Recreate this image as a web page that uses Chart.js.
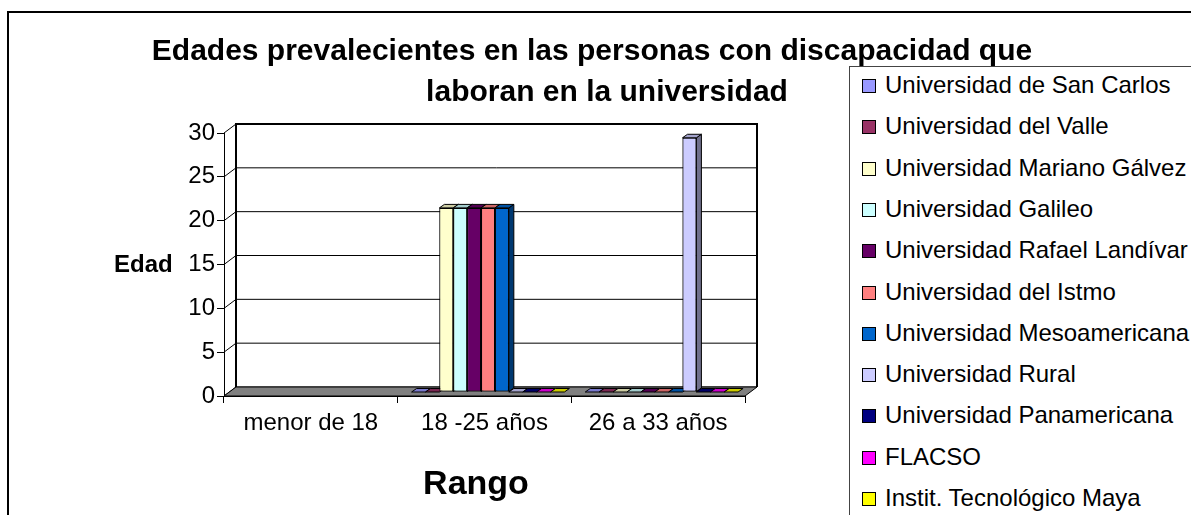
<!DOCTYPE html>
<html>
<head>
<meta charset="utf-8">
<script src="https://cdn.jsdelivr.net/npm/chart.js@4.4.1/dist/chart.umd.min.js"></script>
<style>
    body { margin: 0; background: #fff; font-family: "Liberation Sans", Arial, sans-serif; }
    #wrap { position: relative; width: 1191px; height: 515px; overflow: hidden; }
    #frame { position: absolute; left: 7px; top: 11px; width: 1300px; height: 600px; border-left: 2px solid #000; border-top: 2px solid #000; }
    #legend { position: absolute; left: 849px; top: 66px; width: 400px; height: 600px; border: 1px solid #444; background: #fff; }
    .item { position: absolute; left: 12px; height: 28px; line-height: 28px; font-size: 24px; white-space: nowrap; color: #000; }
    .item span { display: inline-block; width: 12px; height: 12px; border: 1px solid #000; margin-right: 9px; vertical-align: 0px; }
    canvas { position: absolute; left: 0; top: 0; }
</style>
</head>
<body>
<div id="wrap">
    <div id="frame"></div>
    <canvas id="chart" width="1191" height="515"></canvas>
    <div id="legend"></div>
</div>
<script>
const categories = ['menor de 18', '18 -25 años', '26 a 33 años'];
const yTicks = [0, 5, 10, 15, 20, 25, 30];

const universities = [
    'Universidad de San Carlos', 'Universidad del Valle', 'Universidad Mariano Gálvez',
    'Universidad Galileo', 'Universidad Rafael Landívar', 'Universidad del Istmo',
    'Universidad Mesoamericana', 'Universidad Rural', 'Universidad Panamericana',
    'FLACSO', 'Instit. Tecnológico Maya'
];
const colors = ['#9999FF', '#993366', '#FFFFCC', '#CCFFFF', '#660066', '#FF8080',
    '#0066CC', '#CCCCFF', '#000080', '#FF00FF', '#FFFF00'];

// empty cells in the first range, zeros elsewhere
const sanCarlos     = [null, 0, 0];
const delValle      = [null, 0, 0];
const marianoGalvez = [null, 21, 0];
const galileo       = [null, 21, 0];
const landivar      = [null, 21, 0];
const istmo         = [null, 21, 0];
const mesoamericana = [null, 21, 0];
const rural         = [null, 0, 29];
const panamericana  = [null, 0, 0];
const flacso        = [null, 0, 0];
const tecMaya       = [null, 0, 0];

const series = [sanCarlos, delValle, marianoGalvez, galileo, landivar, istmo,
    mesoamericana, rural, panamericana, flacso, tecMaya];

const FONT = '"Liberation Sans", Arial, sans-serif';

const shade = (hex, f) => {
    const n = parseInt(hex.slice(1), 16);
    const r = Math.round(((n >> 16) & 255) * f);
    const g = Math.round(((n >> 8) & 255) * f);
    const b = Math.round((n & 255) * f);
    return `rgb(${r},${g},${b})`;
};

const poly = (ctx, pts, fill) => {
    ctx.beginPath();
    ctx.moveTo(pts[0][0], pts[0][1]);
    pts.slice(1).forEach(p => ctx.lineTo(p[0], p[1]));
    ctx.closePath();
    ctx.fillStyle = fill;
    ctx.fill();
    ctx.stroke();
};

// fake excel 3d: back wall, floor, bar tops and sides
const threeD = {
    id: 'threeD',
    beforeDatasetsDraw(chart) {
        const { ctx, chartArea: a, scales: { y } } = chart;
        const dx = 12, dy = -9;
        ctx.save();
        ctx.fillStyle = '#fff';
        ctx.fillRect(a.left + dx, a.top + dy, a.right - a.left, a.bottom - a.top);
        ctx.strokeStyle = '#000';
        ctx.lineWidth = 1;
        y.ticks.forEach(t => {
            const py = y.getPixelForValue(t.value);
            ctx.beginPath();
            ctx.moveTo(a.left, py);
            ctx.lineTo(a.left + dx, py + dy);
            ctx.lineTo(a.right + dx, py + dy);
            ctx.stroke();
        });
        poly(ctx, [[a.left, a.bottom], [a.right, a.bottom], [a.right + dx, a.bottom + dy], [a.left + dx, a.bottom + dy]], '#808080');
        ctx.lineWidth = 2;
        ctx.beginPath();
        ctx.moveTo(a.left + dx, a.bottom + dy);
        ctx.lineTo(a.left + dx, a.top + dy);
        ctx.lineTo(a.right + dx, a.top + dy);
        ctx.lineTo(a.right + dx, a.bottom + dy);
        ctx.stroke();
        ctx.restore();

        // bars stand in the middle of the depth
        ctx.save();
        ctx.translate(3.5, -4);
    },
    afterDatasetsDraw(chart) {
        const { ctx } = chart;
        const bx = 5, by = -3.5;
        ctx.strokeStyle = '#000';
        ctx.lineWidth = 1;
        for (let i = 0; i < categories.length; i++) {
            chart.data.datasets.forEach((ds, d) => {
                if (ds.data[i] === null) return;
                const el = chart.getDatasetMeta(d).data[i];
                const { x, y, base, width } = el.getProps(['x', 'y', 'base', 'width'], true);
                const x1 = x - width / 2, x2 = x + width / 2;
                if (base - y > 0.5) {
                    poly(ctx, [[x2, y], [x2 + bx, y + by], [x2 + bx, base + by], [x2, base]], shade(colors[d], 0.55));
                }
                poly(ctx, [[x1, y], [x2, y], [x2 + bx, y + by], [x1 + bx, y + by]], shade(colors[d], 0.8));
                if (base - y > 0.5) el.draw(ctx);
            });
        }
        ctx.restore();
    }
};

const labelsPlugin = {
    id: 'labelsPlugin',
    afterDraw(chart) {
        const { ctx } = chart;
        ctx.save();
        ctx.fillStyle = '#000';
        ctx.textBaseline = 'alphabetic';
        ctx.textAlign = 'center';
        ctx.font = `bold 30px ${FONT}`;
        ctx.fillText('Edades prevalecientes en las personas con discapacidad que', 592, 60);
        ctx.fillText('laboran en la universidad', 607, 101);
        ctx.font = `bold 34px ${FONT}`;
        ctx.fillText('Rango', 476, 494);
        ctx.textAlign = 'left';
        ctx.font = `bold 24px ${FONT}`;
        ctx.fillText('Edad', 114, 272);
        ctx.restore();
    }
};

new Chart(document.getElementById('chart'), {
    type: 'bar',
    data: {
        labels: categories,
        datasets: series.map((data, i) => ({
            label: universities[i],
            data,
            backgroundColor: colors[i],
            borderColor: '#000',
            borderWidth: 1,
            borderSkipped: false,
            categoryPercentage: 0.88,
            barPercentage: 1
        }))
    },
    options: {
        responsive: false,
        animation: false,
        layout: { padding: { left: 0, top: 133, right: 446, bottom: 0 } },
        plugins: { legend: { display: false }, tooltip: { enabled: false } },
        scales: {
            x: {
                afterFit: s => { s.height = 119; },
                grid: { drawOnChartArea: false, tickLength: 7, color: '#000', offset: true },
                border: { color: '#000' },
                ticks: { color: '#000', font: { family: FONT, size: 24 }, padding: 6, maxRotation: 0 }
            },
            y: {
                min: 0,
                max: 30,
                afterFit: s => { s.width = 224; },
                afterBuildTicks: s => { s.ticks = yTicks.map(v => ({ value: v })); },
                grid: { drawOnChartArea: false, tickLength: 7, color: '#000' },
                border: { color: '#000' },
                ticks: { color: '#000', font: { family: FONT, size: 24 }, padding: 2 }
            }
        }
    },
    plugins: [threeD, labelsPlugin]
});

const legend = document.getElementById('legend');
universities.forEach((name, i) => {
    const row = document.createElement('div');
    row.className = 'item';
    row.style.top = (18 + i * 41.3 - 14) + 'px';
    row.innerHTML = `<span style="background:${colors[i]}"></span>${name}`;
    legend.appendChild(row);
});
</script>
</body>
</html>
